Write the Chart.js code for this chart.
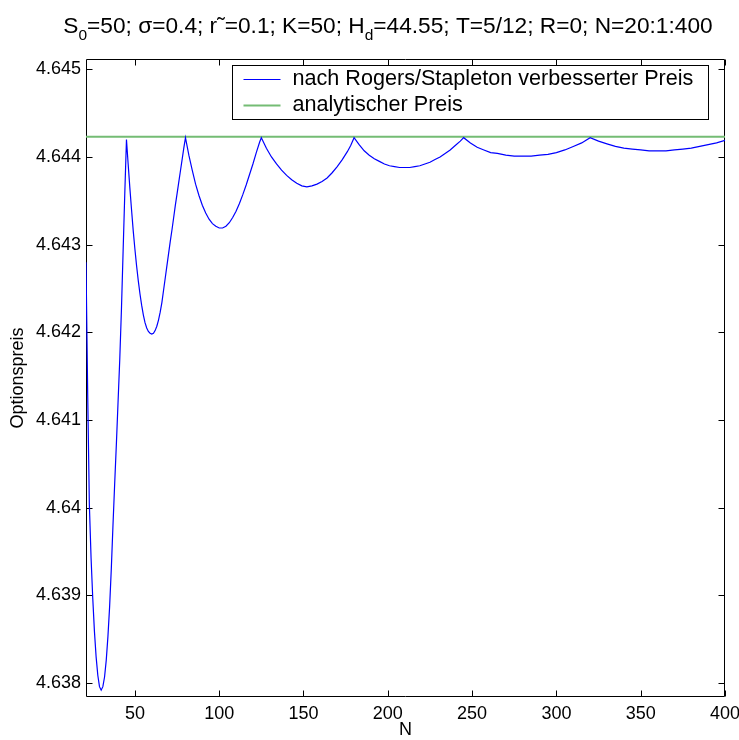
<!DOCTYPE html>
<html>
<head>
<meta charset="utf-8">
<script src="https://cdn.jsdelivr.net/npm/chart.js@4.4.1/dist/chart.umd.min.js"></script>
<style>
  html, body { margin: 0; padding: 0; background: #fff; }
  canvas { display: block; }
</style>
</head>
<body>
<canvas id="konvergenz" width="739" height="740"></canvas>
<script>
// Anzahl Zeitschritte N und der nach Rogers/Stapleton verbesserte Preis
var nValues = [
  21, 22, 23, 24, 25, 26, 27, 28, 29, 30, 31, 32, 33, 34, 35, 36, 37, 38, 39, 40, 41, 42, 43, 44, 45,
  46, 47, 48, 49, 50, 51, 52, 53, 54, 55, 56, 57, 58, 59, 60, 61, 62, 63, 64, 65, 66, 67, 68, 69, 70,
  71, 72, 73, 74, 75, 76, 77, 78, 79, 80,
  82, 84, 86, 88, 90, 92, 94, 96, 98, 100, 102, 104, 106, 108, 110, 112, 114, 116, 118, 120, 122, 124, 125,
  128, 131, 134, 137, 140, 143, 146, 149, 152, 155, 158, 161, 164, 167, 170, 173, 176, 178, 180,
  183, 186, 189, 192, 195, 198, 201, 204, 207, 210, 213, 216, 219, 222, 225, 228, 231, 234, 237, 240, 243, 245,
  249, 253, 257, 261, 265, 270, 275, 280, 285, 290, 295, 300, 305, 310, 315, 320,
  325, 330, 335, 340, 345, 350, 355, 360, 365, 370, 375, 380, 385, 390, 395, 400
];
var priceValues = [
  4.64280, 4.64130, 4.64003, 4.63943, 4.63897, 4.63859, 4.63830, 4.63809, 4.63796, 4.63792,
  4.63796, 4.63807, 4.63826, 4.63853, 4.63887, 4.63930, 4.63980, 4.64027, 4.64072, 4.64120,
  4.64168, 4.64225, 4.64292, 4.64358, 4.64420,
  4.64392, 4.64365, 4.64340, 4.64316, 4.64295, 4.64276, 4.64259, 4.64244, 4.64231, 4.64220,
  4.64211, 4.64205, 4.64201, 4.64199, 4.64198, 4.64199, 4.64202, 4.64207, 4.64214, 4.64223,
  4.64234, 4.64248, 4.64262, 4.64276, 4.64290, 4.64304, 4.64317, 4.64331, 4.64345, 4.64358,
  4.64371, 4.64384, 4.64397, 4.64410, 4.64422,
  4.64402, 4.64385, 4.64369, 4.64356, 4.64345, 4.64336, 4.64329, 4.64324, 4.64321, 4.64319,
  4.64319, 4.64321, 4.64325, 4.64331, 4.64338, 4.64347, 4.64357, 4.64368, 4.64380, 4.64392,
  4.64405, 4.64417, 4.64422,
  4.64410, 4.64400, 4.64392, 4.64385, 4.64379, 4.64374, 4.64370, 4.64367, 4.64366, 4.64367,
  4.64369, 4.64372, 4.64376, 4.64382, 4.64389, 4.64397, 4.64406, 4.64413, 4.64422,
  4.64414, 4.64407, 4.64402, 4.64398, 4.64395, 4.64392, 4.64390, 4.64389, 4.64388, 4.64388,
  4.64388, 4.64389, 4.64390, 4.64392, 4.64394, 4.64397, 4.64400, 4.64404, 4.64408, 4.64413,
  4.64418, 4.64422,
  4.64416, 4.64411, 4.64408, 4.64405, 4.64404, 4.64402, 4.64401, 4.64401, 4.64401, 4.64402,
  4.64403, 4.64405, 4.64408, 4.64412, 4.64416, 4.64422,
  4.64418, 4.64415, 4.64412, 4.64410, 4.64409, 4.64408, 4.64407, 4.64407, 4.64407, 4.64408,
  4.64409, 4.64410, 4.64412, 4.64414, 4.64416, 4.64419
];
var analyticPrice = 4.64423;
var nRange = [21, 400];

var xTicks = [50, 100, 150, 200, 250, 300, 350, 400];
var yTicks = [4.638, 4.639, 4.64, 4.641, 4.642, 4.643, 4.644, 4.645];

var seriesLabels = ['nach Rogers/Stapleton verbesserter Preis', 'analytischer Preis'];
var seriesColors = ['#0000ff', '#74bc74'];

var FONT = '"Liberation Sans", Arial, Helvetica, sans-serif';

// Titel mit tiefgestellten Zeichen (S_0, H_d)
var titleParts = [
  { t: 'S' }, { t: '0', sub: true },
  { t: '=50; \u03c3=0.4; r\u02dc=0.1; K=50; H' }, { t: 'd', sub: true },
  { t: '=44.55; T=5/12; R=0; N=20:1:400' }
];

var rahmen = {
  id: 'rahmen',
  // Achsenrahmen mit nach innen zeigenden Ticks, unter den Kurven
  beforeDatasetsDraw: function (chart) {
    var ctx = chart.ctx, a = chart.chartArea;
    var x = chart.scales.x, y = chart.scales.y;
    var L = Math.round(a.left) + 0.5, R = Math.round(a.right) - 0.5;
    var T = Math.round(a.top) + 0.5, B = Math.round(a.bottom) - 0.5;
    ctx.save();
    ctx.strokeStyle = '#000';
    ctx.lineWidth = 1;
    ctx.beginPath();
    ctx.rect(L, T, R - L, B - T);
    xTicks.forEach(function (v) {
      var px = Math.round(x.getPixelForValue(v)) + 0.5;
      ctx.moveTo(px, B); ctx.lineTo(px, B - 6);
      ctx.moveTo(px, T); ctx.lineTo(px, T + 6);
    });
    yTicks.forEach(function (v) {
      var py = Math.round(y.getPixelForValue(v)) + 0.5;
      ctx.moveTo(L, py); ctx.lineTo(L + 6, py);
      ctx.moveTo(R, py); ctx.lineTo(R - 6, py);
    });
    ctx.stroke();
    ctx.restore();
  },
  // Legende oben rechts
  afterDatasetsDraw: function (chart) {
    var ctx = chart.ctx;
    var bx = 232.5, by = 65.5, bw = 476, bh = 54;
    ctx.save();
    ctx.fillStyle = '#fff';
    ctx.fillRect(bx, by, bw, bh);
    ctx.strokeStyle = '#000';
    ctx.lineWidth = 1;
    ctx.strokeRect(bx, by, bw, bh);
    ctx.font = '21.6px ' + FONT;
    ctx.textBaseline = 'middle';
    ctx.textAlign = 'left';
    seriesLabels.forEach(function (lab, i) {
      var ly = by + 14 + i * 26;
      ctx.strokeStyle = seriesColors[i];
      ctx.lineWidth = i === 0 ? 1.2 : 2;
      ctx.beginPath();
      ctx.moveTo(bx + 11, ly); ctx.lineTo(bx + 48, ly);
      ctx.stroke();
      ctx.fillStyle = '#000';
      ctx.fillText(lab, bx + 60, ly);
    });
    ctx.restore();
  },
  afterDraw: function (chart) {
    var ctx = chart.ctx;
    var big = '22.7px ' + FONT, small = '15.5px ' + FONT;
    ctx.save();
    ctx.fillStyle = '#000';
    ctx.textBaseline = 'alphabetic';
    ctx.textAlign = 'left';
    var w = 0;
    titleParts.forEach(function (p) {
      ctx.font = p.sub ? small : big;
      w += ctx.measureText(p.t).width;
    });
    var cx = 388 - w / 2, base = 33;
    titleParts.forEach(function (p) {
      ctx.font = p.sub ? small : big;
      ctx.fillText(p.t, cx, p.sub ? base + 7 : base);
      cx += ctx.measureText(p.t).width;
    });
    ctx.restore();
  }
};

var ctx = document.getElementById('konvergenz').getContext('2d');
var myChart = new Chart(ctx, {
  type: 'line',
  data: {
    datasets: [
      {
        label: seriesLabels[0],
        data: nValues.map(function (n, i) { return { x: n, y: priceValues[i] }; }),
        borderColor: seriesColors[0],
        borderWidth: 1.2,
        pointRadius: 0,
        tension: 0,
        order: 1
      },
      {
        label: seriesLabels[1],
        data: nRange.map(function (n) { return { x: n, y: analyticPrice }; }),
        borderColor: seriesColors[1],
        borderWidth: 2,
        pointRadius: 0,
        order: 2
      }
    ]
  },
  options: {
    responsive: false,
    animation: false,
    devicePixelRatio: 1,
    layout: { padding: { left: 0, top: 59, right: 14, bottom: 0 } },
    plugins: {
      legend: { display: false },
      title: { display: false },
      tooltip: { enabled: false }
    },
    scales: {
      x: {
        type: 'linear',
        min: nRange[0],
        max: nRange[1],
        afterBuildTicks: function (s) { s.ticks = xTicks.map(function (v) { return { value: v }; }); },
        afterFit: function (s) { s.height = 43; s.paddingLeft = 0; s.paddingRight = 0; },
        grid: { display: false, drawTicks: false },
        border: { display: false },
        ticks: {
          color: '#000', padding: 6, maxRotation: 0, autoSkip: false,
          font: { family: FONT, size: 18 }
        },
        title: {
          display: true, text: 'N', color: '#000',
          font: { family: FONT, size: 18 }, padding: { top: 0, bottom: -1 }
        }
      },
      y: {
        min: 4.637842,
        max: 4.645117,
        afterBuildTicks: function (s) { s.ticks = yTicks.map(function (v) { return { value: v }; }); },
        afterFit: function (s) { s.width = 86; s.paddingTop = 0; s.paddingBottom = 0; },
        grid: { display: false, drawTicks: false },
        border: { display: false },
        ticks: {
          color: '#000', padding: 5, autoSkip: false,
          font: { family: FONT, size: 18 },
          callback: function (v) { return String(Number(v.toFixed(3))); }
        },
        title: {
          display: true, text: 'Optionspreis', color: '#000',
          font: { family: FONT, size: 18 }, padding: { top: 7, bottom: 0 }
        }
      }
    }
  },
  plugins: [rahmen]
});
</script>
</body>
</html>
